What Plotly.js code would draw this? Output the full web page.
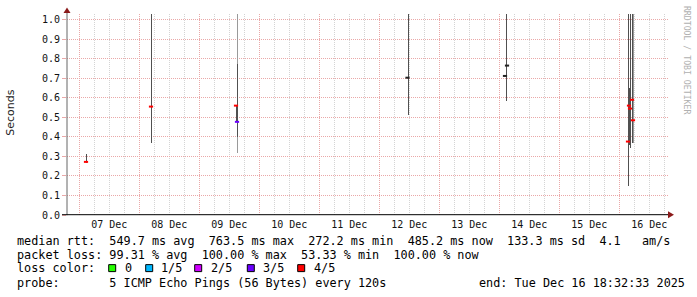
<!DOCTYPE html>
<html><head><meta charset="utf-8">
<script src="https://cdn.plot.ly/plotly-3.0.1.min.js"></script>
<style>html,body{margin:0;padding:0;background:#fff;}#chart{width:697px;height:297px;}
.scatterlayer path.js-line{shape-rendering:crispEdges;}
.gridlayer path, .minor-gridlayer path{shape-rendering:crispEdges;}
</style>
</head><body><div id="chart"></div>
<script>
// ---- data ----
const smokeTime = ['2025-12-07 02:41','2025-12-08 04:41','2025-12-09 14:41','2025-12-09 15:05','2025-12-12 11:41','2025-12-14 02:41','2025-12-16 03:29','2025-12-16 03:53','2025-12-16 04:17','2025-12-16 05:05','2025-12-16 05:29'];
const smokeMin  = [0.265, 0.37, 0.477, 0.32, 0.51, 0.585, 0.146, 0.36, 0.342, 0.368, 0.368];
const smokeLoQ  = [0.265, 0.37, 0.477, 0.40, 0.51, 0.585, 0.146, 0.36, 0.342, 0.368, null];
const smokeHiQ  = [0.31, 1.10, 0.56, 0.775, 1.10, 1.10, 1.10, 0.65, 1.10, 1.10, null];
const smokeMax  = [0.31, 1.10, 0.56, 1.10, 1.10, 1.10, 1.10, 0.65, 1.10, 1.10, 1.10];

const medTime  = ['2025-12-07 02:41','2025-12-08 04:41','2025-12-09 14:41','2025-12-09 15:05','2025-12-12 11:17','2025-12-14 02:17','2025-12-14 03:05','2025-12-16 03:29','2025-12-16 03:53','2025-12-16 04:17','2025-12-16 05:05','2025-12-16 05:29'];
const medValue = [0.272, 0.555, 0.56, 0.477, 0.703, 0.712, 0.765, 0.376, 0.56, 0.545, 0.59, 0.485];
const medLoss  = [4, 4, 4, 3, null, null, null, 4, 4, 4, 4, 4];

const lossLabels = ['0','1/5','2/5','3/5','4/5'];
const lossColors = ['#26ff00','#00b8ff','#d000ff','#6a00ff','#ff0000'];

const yTicks = [0,0.1,0.2,0.3,0.4,0.5,0.6,0.7,0.8,0.9,1.0];

const statLines = [
  'median rtt:  549.7 ms avg  763.5 ms max  272.2 ms min  485.2 ms now  133.3 ms sd  4.1   am/s',
  'packet loss: 99.31 % avg  100.00 % max  53.33 % min  100.00 % now',
  'loss color:',
  'probe:       5 ICMP Echo Pings (56 Bytes) every 120s'
];
const endText = 'end: Tue Dec 16 18:32:33 2025';
const yTitle = 'Seconds';
const watermark = 'RRDTOOL / TOBI OETIKER';

// ---- geometry ----
const W = 697, H = 297;
const M = {l: 67, r: 29, t: 14, b: 81.7};
const PW = W - M.l - M.r, PH = H - M.t - M.b;
const px = x => (x - M.l) / PW;
const py = y => (H - M.b - y) / PH;
const nb = s => s.replace(/ /g, '\u00A0');
const MONO = 'DejaVu Sans Mono, monospace';

function segs(lo, hi) {
  const xs = [], ys = [];
  smokeTime.forEach((t, i) => {
    if (lo[i] == null || hi[i] == null) return;
    xs.push(t, t, null); ys.push(lo[i], hi[i], null);
  });
  return {xs, ys};
}
const outer = segs(smokeMin, smokeMax);
const inner = segs(smokeLoQ, smokeHiQ);

const traces = [
  {type: 'scatter', mode: 'lines', x: outer.xs, y: outer.ys, line: {color: '#9a9a9a', width: 1}, hoverinfo: 'skip', showlegend: false},
  {type: 'scatter', mode: 'lines', x: inner.xs, y: inner.ys, line: {color: '#505050', width: 1}, hoverinfo: 'skip', showlegend: false},
  {type: 'scatter', mode: 'markers', x: medTime, y: medValue,
   marker: {symbol: 'line-ew', size: 3, line: {width: 2, color: medLoss.map(l => l == null ? '#222222' : lossColors[l])}},
   showlegend: false, hoverinfo: 'skip'}
];

const shapes = [
  {type: 'line', xref: 'paper', yref: 'paper', x0: px(67), x1: px(67), y0: py(215.5), y1: py(11), line: {color: '#666666', width: 1}},
  {type: 'path', xref: 'paper', yref: 'paper', path: `M ${px(63.5)} ${py(13)} L ${px(70.5)} ${py(13)} L ${px(67)} ${py(7.5)} Z`, fillcolor: '#8b1a1a', line: {width: 0}},
  {type: 'line', xref: 'paper', yref: 'paper', x0: px(62), x1: px(670), y0: py(215), y1: py(215), line: {color: '#000000', width: 1}},
  {type: 'path', xref: 'paper', yref: 'paper', path: `M ${px(668)} ${py(211.5)} L ${px(668)} ${py(218.5)} L ${px(674)} ${py(215)} Z`, fillcolor: '#8b1a1a', line: {width: 0}}
];

const annotations = [];
const lineY = [241, 255, 268.5, 283];
statLines.forEach((s, i) => {
  annotations.push({xref: 'paper', yref: 'paper', x: px(15), y: py(lineY[i]), xanchor: 'left', yanchor: 'middle',
    text: nb(s), showarrow: false, font: {family: MONO, size: 11.8, color: '#000'}});
});
annotations.push({xref: 'paper', yref: 'paper', x: px(477), y: py(lineY[3]), xanchor: 'left', yanchor: 'middle',
  text: nb(endText), showarrow: false, font: {family: MONO, size: 11.8, color: '#000'}});
const boxX = [108.7, 145.7, 194.7, 247.3, 297.7];
const labX = [123, 159, 209, 261, 312];
lossLabels.forEach((lab, i) => {
  shapes.push({type: 'rect', xref: 'paper', yref: 'paper', x0: px(boxX[i]), x1: px(boxX[i] + 7), y0: py(272), y1: py(265),
    fillcolor: lossColors[i], line: {color: '#000', width: 1}});
  annotations.push({xref: 'paper', yref: 'paper', x: px(labX[i]), y: py(lineY[2]), xanchor: 'left', yanchor: 'middle',
    text: nb(lab), showarrow: false, font: {family: MONO, size: 11.8, color: '#000'}});
});
annotations.push({xref: 'paper', yref: 'paper', x: px(11), y: py(113), xanchor: 'center', yanchor: 'middle',
  text: yTitle, textangle: -90, showarrow: false, font: {family: 'DejaVu Sans, sans-serif', size: 11, color: '#222'}});
annotations.push({xref: 'paper', yref: 'paper', x: px(687), y: py(60), xanchor: 'center', yanchor: 'middle',
  text: nb(watermark), textangle: 90, showarrow: false, font: {family: MONO, size: 8.2, color: '#b0b0b0'}});

const layout = {
  width: W, height: H, margin: M,
  paper_bgcolor: '#ffffff', plot_bgcolor: '#ffffff',
  showlegend: false,
  xaxis: {
    type: 'date', range: ['2025-12-06 19:05', '2025-12-16 19:29'],
    tick0: '2025-12-07', dtick: 86400000, ticklabelmode: 'period', tickformat: '%d %b',
    showgrid: true, gridcolor: '#eaa8a8', griddash: '1px,1px', gridwidth: 1,
    minor: {dtick: 21600000, showgrid: true, gridcolor: '#d4d4d4', griddash: '1px,1px', ticks: ''},
    ticks: '', showline: false, zeroline: false, ticklabelstandoff: 2,
    tickfont: {family: MONO, size: 10, color: '#111'}, fixedrange: true
  },
  yaxis: {
    range: [0, PH / 195.6], tickvals: yTicks, tickformat: '.1f',
    showgrid: true, gridcolor: '#eaa8a8', griddash: '1px,1px', gridwidth: 1,
    ticks: 'outside', ticklen: 4, tickcolor: '#eaa8a8',
    showline: false, zeroline: false,
    tickfont: {family: MONO, size: 10, color: '#111'}, fixedrange: true
  },
  shapes, annotations
};
Plotly.newPlot('chart', traces, layout, {staticPlot: true, displayModeBar: false});
</script></body></html>
